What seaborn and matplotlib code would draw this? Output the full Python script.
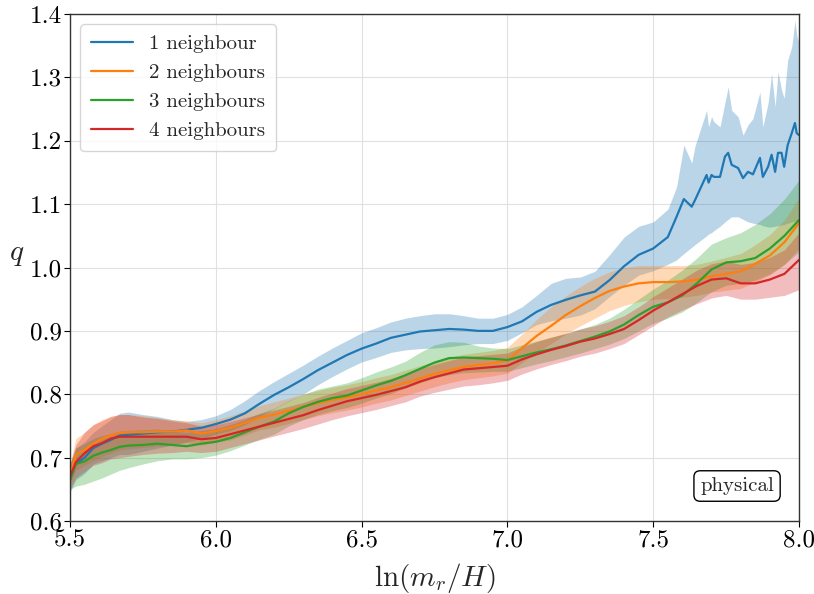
import matplotlib
matplotlib.use("Agg")
import matplotlib.pyplot as plt
import seaborn as sns
import pandas as pd

# Shared abscissa for the 2, 3 and 4 neighbour curves
x_grid = [5.50, 5.52, 5.55, 5.58, 5.61, 5.64, 5.67, 5.70, 5.75, 5.80, 5.85, 5.90, 5.95,
          6.00, 6.05, 6.10, 6.15, 6.20, 6.25, 6.30, 6.35, 6.40, 6.45, 6.50, 6.55, 6.60,
          6.65, 6.70, 6.75, 6.80, 6.85, 6.90, 6.95, 7.00, 7.05, 7.10, 7.15, 7.20, 7.25,
          7.30, 7.35, 7.40, 7.45, 7.50, 7.55, 7.60, 7.65, 7.70, 7.75, 7.80, 7.85, 7.90,
          7.95, 8.00]

# 1 neighbour: finer sampling in the noisy tail
x_one = [5.50, 5.52, 5.55, 5.58, 5.61, 5.64, 5.67, 5.70, 5.75, 5.80, 5.85, 5.90, 5.95,
         6.00, 6.05, 6.10, 6.15, 6.20, 6.25, 6.30, 6.35, 6.40, 6.45, 6.50, 6.55, 6.60,
         6.65, 6.70, 6.75, 6.80, 6.85, 6.90, 6.95, 7.00, 7.05, 7.10, 7.15, 7.20, 7.25,
         7.30, 7.35, 7.40, 7.45, 7.50, 7.55, 7.58, 7.605, 7.632, 7.643, 7.683, 7.69,
         7.70, 7.708, 7.729, 7.746, 7.757, 7.769, 7.791, 7.808, 7.825, 7.842, 7.866,
         7.876, 7.894, 7.906, 7.918, 7.928, 7.94, 7.949, 7.961, 7.975, 7.986, 7.992, 8.00]
q_one = [0.665, 0.690, 0.700, 0.715, 0.722, 0.728, 0.735, 0.736, 0.738, 0.740, 0.741,
         0.744, 0.747, 0.753, 0.760, 0.770, 0.785, 0.799, 0.811, 0.824, 0.838, 0.850,
         0.862, 0.872, 0.880, 0.889, 0.894, 0.899, 0.901, 0.903, 0.902, 0.900, 0.900,
         0.906, 0.915, 0.930, 0.941, 0.949, 0.956, 0.962, 0.980, 1.002, 1.020, 1.030,
         1.048, 1.080, 1.108, 1.096, 1.106, 1.146, 1.134, 1.146, 1.143, 1.143, 1.175,
         1.181, 1.162, 1.157, 1.141, 1.151, 1.147, 1.173, 1.143, 1.159, 1.178, 1.151,
         1.181, 1.181, 1.159, 1.193, 1.212, 1.228, 1.212, 1.209]
q_one_hi = [0.690, 0.715, 0.725, 0.740, 0.750, 0.760, 0.770, 0.772, 0.768, 0.765, 0.760,
            0.757, 0.760, 0.766, 0.776, 0.790, 0.806, 0.820, 0.833, 0.846, 0.860, 0.873,
            0.885, 0.897, 0.905, 0.914, 0.920, 0.924, 0.927, 0.927, 0.924, 0.920, 0.920,
            0.926, 0.938, 0.956, 0.975, 0.983, 0.985, 0.994, 1.020, 1.048, 1.065, 1.072,
            1.092, 1.127, 1.193, 1.165, 1.191, 1.248, 1.222, 1.238, 1.230, 1.222, 1.260,
            1.285, 1.248, 1.238, 1.209, 1.225, 1.235, 1.277, 1.222, 1.260, 1.306, 1.254,
            1.309, 1.280, 1.267, 1.327, 1.348, 1.390, 1.367, 1.354]
q_one_lo = [0.645, 0.665, 0.675, 0.690, 0.695, 0.700, 0.705, 0.705, 0.710, 0.715, 0.720,
            0.725, 0.730, 0.737, 0.743, 0.752, 0.765, 0.777, 0.789, 0.800, 0.815, 0.828,
            0.840, 0.851, 0.858, 0.866, 0.870, 0.872, 0.873, 0.875, 0.878, 0.880, 0.880,
            0.885, 0.897, 0.910, 0.916, 0.920, 0.925, 0.935, 0.954, 0.972, 0.988, 0.995,
            1.005, 1.012, 1.022, 1.032, 1.036, 1.050, 1.053, 1.055, 1.058, 1.065, 1.072,
            1.076, 1.080, 1.080, 1.076, 1.072, 1.070, 1.068, 1.066, 1.064, 1.064, 1.065,
            1.066, 1.067, 1.068, 1.070, 1.072, 1.073, 1.074, 1.075]

q_two = [0.670, 0.705, 0.712, 0.722, 0.730, 0.735, 0.739, 0.740, 0.740, 0.741, 0.741,
         0.743, 0.738, 0.742, 0.747, 0.755, 0.763, 0.768, 0.774, 0.780, 0.786, 0.791,
         0.795, 0.800, 0.806, 0.811, 0.818, 0.825, 0.832, 0.838, 0.843, 0.846, 0.849,
         0.853, 0.873, 0.892, 0.908, 0.925, 0.939, 0.952, 0.963, 0.970, 0.975, 0.977,
         0.977, 0.978, 0.981, 0.986, 0.990, 0.994, 1.006, 1.019, 1.040, 1.070]
q_two_hi = [0.690, 0.730, 0.740, 0.752, 0.760, 0.765, 0.768, 0.768, 0.766, 0.763, 0.760,
            0.758, 0.755, 0.760, 0.766, 0.774, 0.782, 0.788, 0.794, 0.800, 0.806, 0.811,
            0.815, 0.820, 0.826, 0.831, 0.838, 0.845, 0.852, 0.858, 0.863, 0.866, 0.869,
            0.874, 0.895, 0.918, 0.938, 0.955, 0.970, 0.983, 0.993, 1.000, 1.003, 1.003,
            1.003, 1.003, 1.005, 1.010, 1.016, 1.022, 1.036, 1.052, 1.075, 1.110]
q_two_lo = [0.655, 0.680, 0.688, 0.695, 0.702, 0.707, 0.712, 0.714, 0.716, 0.718, 0.720,
            0.724, 0.720, 0.724, 0.728, 0.736, 0.744, 0.748, 0.754, 0.760, 0.766, 0.771,
            0.775, 0.780, 0.786, 0.791, 0.798, 0.805, 0.812, 0.818, 0.823, 0.826, 0.829,
            0.833, 0.850, 0.866, 0.880, 0.895, 0.908, 0.920, 0.932, 0.940, 0.946, 0.950,
            0.951, 0.953, 0.956, 0.961, 0.964, 0.967, 0.977, 0.988, 1.005, 1.030]

q_three = [0.665, 0.690, 0.694, 0.703, 0.708, 0.712, 0.717, 0.719, 0.720, 0.722, 0.720,
           0.718, 0.722, 0.725, 0.731, 0.740, 0.749, 0.757, 0.770, 0.780, 0.788, 0.794,
           0.798, 0.806, 0.814, 0.821, 0.830, 0.840, 0.850, 0.857, 0.858, 0.857, 0.856,
           0.854, 0.860, 0.866, 0.871, 0.877, 0.884, 0.891, 0.899, 0.910, 0.925, 0.938,
           0.945, 0.956, 0.975, 0.997, 1.008, 1.010, 1.015, 1.030, 1.050, 1.075]
q_three_hi = [0.690, 0.715, 0.722, 0.730, 0.735, 0.738, 0.742, 0.743, 0.744, 0.745, 0.742,
              0.740, 0.743, 0.746, 0.752, 0.760, 0.770, 0.778, 0.790, 0.800, 0.808, 0.813,
              0.818, 0.826, 0.835, 0.843, 0.852, 0.866, 0.878, 0.883, 0.882, 0.876, 0.873,
              0.872, 0.878, 0.884, 0.890, 0.896, 0.903, 0.910, 0.920, 0.934, 0.950, 0.966,
              0.980, 0.996, 1.015, 1.037, 1.047, 1.055, 1.068, 1.085, 1.108, 1.138]
q_three_lo = [0.650, 0.655, 0.658, 0.663, 0.668, 0.674, 0.680, 0.684, 0.690, 0.695, 0.698,
              0.698, 0.700, 0.704, 0.711, 0.720, 0.729, 0.737, 0.750, 0.760, 0.768, 0.774,
              0.779, 0.786, 0.794, 0.801, 0.810, 0.818, 0.826, 0.831, 0.834, 0.835, 0.836,
              0.836, 0.842, 0.848, 0.853, 0.859, 0.865, 0.872, 0.879, 0.888, 0.900, 0.912,
              0.920, 0.930, 0.945, 0.962, 0.972, 0.975, 0.980, 0.990, 1.005, 1.025]

q_four = [0.670, 0.693, 0.707, 0.718, 0.723, 0.730, 0.733, 0.733, 0.733, 0.733, 0.733,
          0.733, 0.729, 0.731, 0.737, 0.743, 0.749, 0.755, 0.761, 0.767, 0.775, 0.782,
          0.789, 0.794, 0.799, 0.805, 0.811, 0.820, 0.827, 0.833, 0.839, 0.841, 0.843,
          0.845, 0.855, 0.863, 0.870, 0.876, 0.883, 0.888, 0.895, 0.903, 0.917, 0.932,
          0.945, 0.958, 0.971, 0.981, 0.983, 0.975, 0.975, 0.981, 0.990, 1.012]
q_four_hi = [0.690, 0.720, 0.740, 0.752, 0.758, 0.765, 0.768, 0.768, 0.764, 0.762, 0.758,
             0.755, 0.750, 0.752, 0.757, 0.763, 0.769, 0.775, 0.781, 0.787, 0.795, 0.802,
             0.809, 0.814, 0.819, 0.825, 0.831, 0.840, 0.847, 0.853, 0.859, 0.861, 0.863,
             0.865, 0.875, 0.883, 0.890, 0.896, 0.903, 0.908, 0.915, 0.924, 0.938, 0.954,
             0.968, 0.982, 0.996, 1.006, 1.010, 1.005, 1.008, 1.016, 1.028, 1.055]
q_four_lo = [0.650, 0.668, 0.678, 0.688, 0.692, 0.698, 0.700, 0.702, 0.705, 0.707, 0.708,
             0.710, 0.708, 0.710, 0.716, 0.722, 0.728, 0.734, 0.740, 0.746, 0.753, 0.760,
             0.766, 0.771, 0.776, 0.782, 0.788, 0.797, 0.803, 0.808, 0.813, 0.815, 0.818,
             0.822, 0.832, 0.840, 0.847, 0.853, 0.860, 0.865, 0.872, 0.880, 0.894, 0.908,
             0.922, 0.933, 0.943, 0.952, 0.956, 0.950, 0.950, 0.953, 0.956, 0.965]

labels = ["1 neighbour", "2 neighbours", "3 neighbours", "4 neighbours"]
colors = ["#1f77b4", "#ff7f0e", "#2ca02c", "#d62728"]
x_ticks = [5.5, 6.0, 6.5, 7.0, 7.5, 8.0]
y_ticks = [0.6, 0.7, 0.8, 0.9, 1.0, 1.1, 1.2, 1.3, 1.4]

series = [
    (x_one, q_one, q_one_lo, q_one_hi),
    (x_grid, q_two, q_two_lo, q_two_hi),
    (x_grid, q_three, q_three_lo, q_three_hi),
    (x_grid, q_four, q_four_lo, q_four_hi),
]

sns.set_style("ticks")
plt.rcParams["font.family"] = ["cmr10", "DejaVu Serif"]
plt.rcParams["mathtext.fontset"] = "cm"
plt.rcParams["axes.formatter.use_mathtext"] = True

fig, ax = plt.subplots(figsize=(8.14, 5.94), dpi=100)
fig.subplots_adjust(left=0.086, right=0.9816, top=0.9764, bottom=0.1229)

for (xs, mean, lo, hi), lab, col in zip(series, labels, colors):
    df = pd.DataFrame({"x": xs, "q": mean})
    ax.fill_between(xs, lo, hi, color=col, alpha=0.3, linewidth=0)
    sns.lineplot(data=df, x="x", y="q", ax=ax, color=col, label=lab,
                 linewidth=1.6, sort=False, estimator=None)

ax.set_xlim(5.5, 8.0)
ax.set_ylim(0.6, 1.4)
ax.set_xticks(x_ticks)
ax.set_yticks(y_ticks)
ax.set_xticklabels([f"{v:.1f}" for v in x_ticks])
ax.set_yticklabels([f"{v:.1f}" for v in y_ticks])
ax.tick_params(axis="both", labelsize=18, length=4, width=0.8, pad=2,
               colors="black")
ax.grid(True, color="#e0e0e0", linewidth=0.8)
ax.set_axisbelow(True)
for s in ax.spines.values():
    s.set_color("#333333")
    s.set_linewidth(1.0)

ax.set_xlabel(r"$\ln(m_r/H)$", fontsize=21, labelpad=7)
ax.set_ylabel(r"$q$", fontsize=21, rotation=0, labelpad=9)

leg = ax.legend(loc="upper left", fontsize=15, frameon=True, fancybox=True,
                framealpha=0.8, edgecolor="#cccccc", handlelength=2.0,
                borderpad=0.5, labelspacing=0.5, handletextpad=0.8)

ax.text(0.915, 0.069, "physical", transform=ax.transAxes, fontsize=15,
        ha="center", va="center",
        bbox=dict(boxstyle="round,pad=0.3", facecolor="white", edgecolor="black",
                  linewidth=1.0))

fig.savefig("out.png", dpi=100)
